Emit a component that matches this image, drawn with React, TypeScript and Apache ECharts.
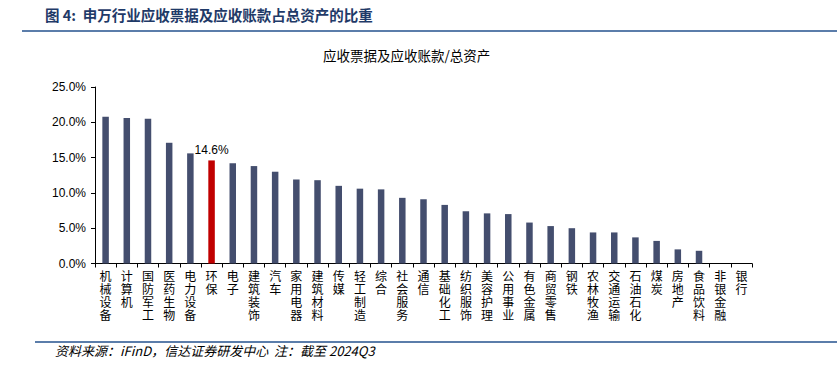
import React, { useEffect, useRef } from "react";
import * as echarts from "echarts";

const categories = [
  "机械设备", "计算机", "国防军工", "医药生物", "电力设备", "环保", "电子", "建筑装饰",
  "汽车", "家用电器", "建筑材料", "传媒", "轻工制造", "综合", "社会服务", "通信",
  "基础化工", "纺织服饰", "美容护理", "公用事业", "有色金属", "商贸零售", "钢铁",
  "农林牧渔", "交通运输", "石油石化", "煤炭", "房地产", "食品饮料", "非银金融", "银行",
];
const values = [
  20.8, 20.6, 20.5, 17.1, 15.6, 14.6, 14.2, 13.8,
  13.0, 11.9, 11.8, 11.0, 10.6, 10.5, 9.3, 9.1,
  8.3, 7.4, 7.1, 7.0, 5.8, 5.3, 5.0,
  4.4, 4.4, 3.7, 3.2, 2.0, 1.8, 0, 0,
];
const highlight = "环保";
const yTicks = { min: 0, max: 25, interval: 5 };

const headerText = "图 4:  申万行业应收票据及应收账款占总资产的比重";
const chartTitle = "应收票据及应收账款/总资产";
const footerText = "资料来源：iFinD，信达证券研发中心  注：截至 2024Q3";

export default function App() {
  const ref = useRef<HTMLDivElement>(null);
  useEffect(() => {
    if (!ref.current) return;
    const chart = echarts.init(ref.current, null, { renderer: "svg" });
    const cjk = "'Noto Sans CJK SC', 'Liberation Sans', sans-serif";
    chart.setOption({
      animation: false,
      backgroundColor: "#ffffff",
      title: {
        text: chartTitle,
        left: 323,
        top: 48,
        padding: 0,
        textStyle: { fontSize: 13.5, fontWeight: "normal", color: "#000", fontFamily: cjk },
      },
      grid: { left: 95, right: 85, top: 87, height: 176.5 },
      xAxis: {
        type: "category",
        data: categories,
        axisLine: { lineStyle: { color: "#000", width: 1 } },
        axisTick: { show: true, length: 4, lineStyle: { color: "#000" } },
        axisLabel: {
          interval: 0,
          margin: 5,
          fontSize: 12,
          lineHeight: 13,
          color: "#000",
          fontFamily: cjk,
          formatter: (v: string) => v.split("").join("\n"),
        },
      },
      yAxis: {
        type: "value",
        min: yTicks.min,
        max: yTicks.max,
        interval: yTicks.interval,
        splitLine: { show: false },
        axisLine: { show: true, lineStyle: { color: "#000", width: 1 } },
        axisTick: { show: true, length: 4, lineStyle: { color: "#000" } },
        axisLabel: {
          fontSize: 12,
          color: "#000",
          margin: 9,
          fontFamily: "'Liberation Sans', Arial, sans-serif",
          formatter: (v: number) => v.toFixed(1) + "%",
        },
      },
      series: [
        {
          type: "bar",
          barWidth: 6.5,
          data: categories.map((c, i) => ({
            value: values[i],
            itemStyle: { color: c === highlight ? "#C00000" : "#444E6E" },
            label:
              c === highlight
                ? {
                    show: true,
                    position: "top",
                    distance: 4,
                    fontSize: 12,
                    color: "#000",
                    fontFamily: "'Liberation Sans', Arial, sans-serif",
                    formatter: (p: any) => p.value.toFixed(1) + "%",
                  }
                : { show: false },
          })),
        },
      ],
      graphic: [
        {
          type: "text",
          left: 45,
          top: 7,
          style: {
            text: headerText,
            fontSize: 14.5,
            fontWeight: "bold",
            fill: "#1F3A68",
            fontFamily: cjk,
          },
        },
        {
          type: "line",
          shape: { x1: 22, y1: 31, x2: 837, y2: 31 },
          style: { stroke: "#5B7DAA", lineWidth: 2 },
        },
        {
          type: "line",
          shape: { x1: 35, y1: 342, x2: 837, y2: 342 },
          style: { stroke: "#5B7DAA", lineWidth: 2 },
        },
        {
          type: "text",
          left: 55,
          top: 344,
          style: {
            text: footerText,
            fontSize: 13,
            fontStyle: "italic",
            fill: "#000",
            fontFamily: cjk,
          },
        },
      ],
    });
    return () => chart.dispose();
  }, []);
  return (
    <div
      ref={ref}
      style={{ position: "absolute", left: 0, top: 0, width: 837, height: 369 }}
    />
  );
}
